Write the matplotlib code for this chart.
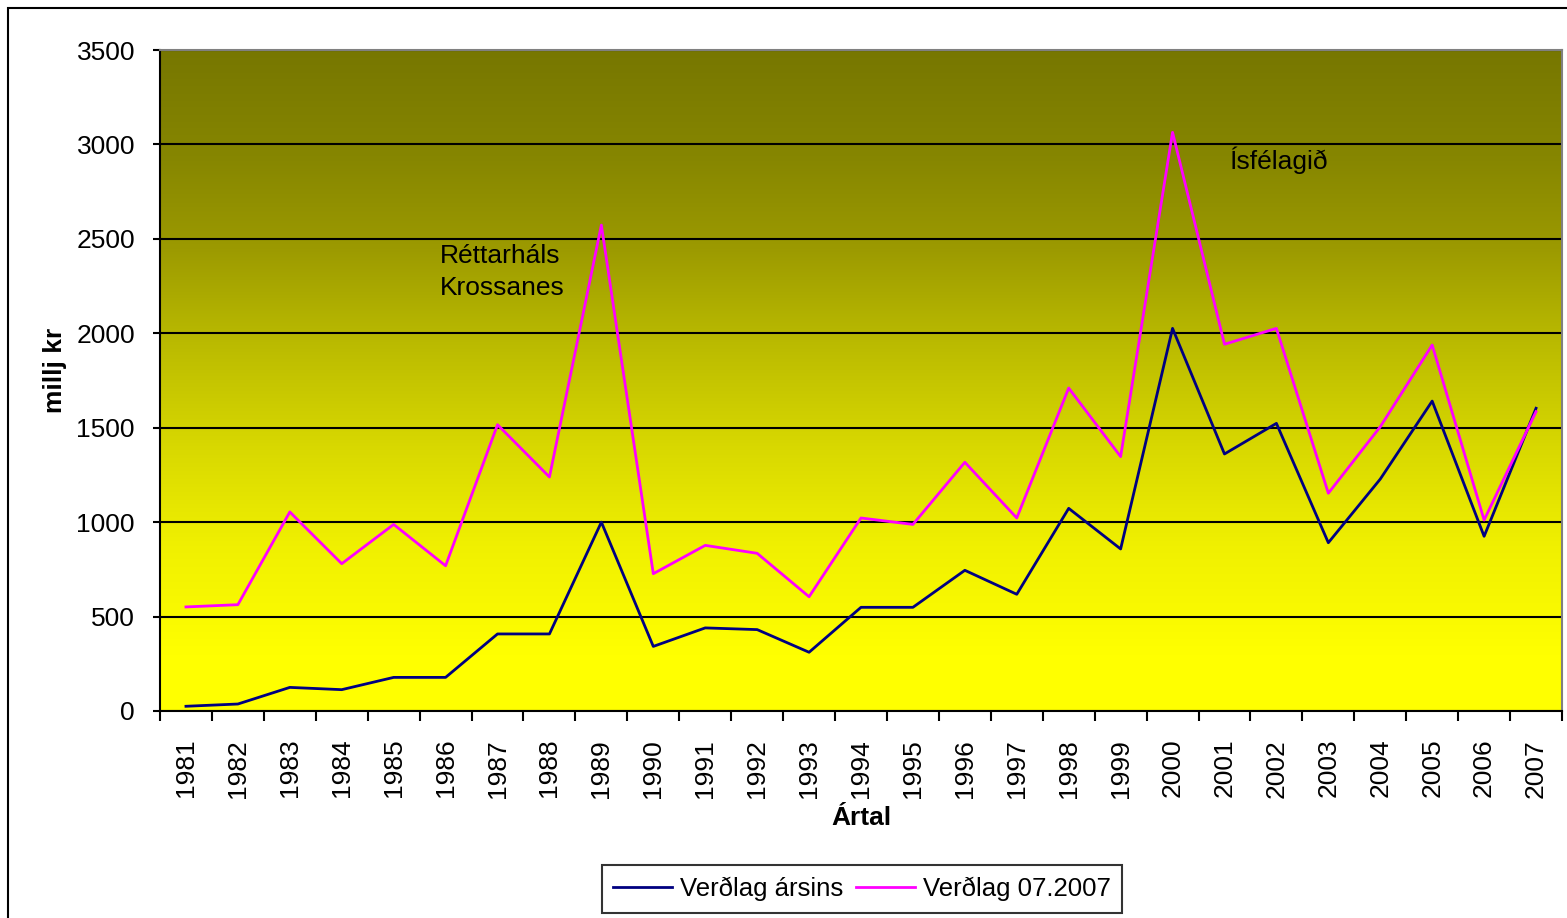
import numpy as np
import matplotlib.pyplot as plt
from matplotlib.colors import LinearSegmentedColormap
from matplotlib.patches import Rectangle

plt.rcParams['font.family'] = ['Liberation Sans', 'DejaVu Sans']

# Datos
years = [str(y) for y in range(1981, 2008)]
verdlag_arsins = [25, 37, 125, 113, 178, 178, 408, 408, 1000, 342, 440, 431, 311, 549,
                  549, 745, 618, 1073, 858, 2026, 1361, 1523, 891, 1228, 1641, 925, 1603]
verdlag_2007 = [551, 563, 1054, 780, 988, 769, 1516, 1239, 2573, 727, 877, 835, 605, 1022,
                988, 1317, 1022, 1710, 1347, 3064, 1942, 2026, 1153, 1505, 1938, 1011, 1585]

fig = plt.figure(figsize=(15.67, 9.18), dpi=100)
ax = fig.add_axes([160 / 1567, 1 - 711 / 918, 1402 / 1567, 661 / 918])

# Borde exterior del gráfico
fig.patches.append(Rectangle((8 / 1567, -0.01), 1.05, 1 - 8 / 918 + 0.01, transform=fig.transFigure,
                             fill=False, edgecolor='black', linewidth=1.5))

# Fondo degradado
cmap = LinearSegmentedColormap.from_list('fondo', [
    (0.0, '#ffff00'), (0.085, '#ffff00'), (0.25, '#f0f000'), (0.40, '#d8d800'),
    (0.57, '#b8b800'), (0.70, '#9c9a00'), (0.84, '#868600'), (1.0, '#777700')])
grad = np.linspace(0, 1, 256).reshape(-1, 1)
ax.imshow(grad, cmap=cmap, origin='lower', aspect='auto', extent=[0, 1, 0, 1],
          transform=ax.transAxes, zorder=0)

x = np.arange(len(years))
ax.plot(x, verdlag_arsins, color='#000080', linewidth=2, label='Verðlag ársins', zorder=3)
ax.plot(x, verdlag_2007, color='#ff00ff', linewidth=2, label='Verðlag 07.2007', zorder=3)

ax.set_xlim(-0.5, len(years) - 0.5)
ax.set_ylim(0, 3500)
ax.set_yticks(range(0, 3501, 500))
ax.yaxis.grid(True, color='black', linewidth=1.5)
for gl in ax.get_ygridlines():
    gl.set_zorder(1)

ax.set_xticks(x)
ax.set_xticklabels(years, rotation=90)
ax.set_xticks(np.arange(-0.5, len(years)), minor=True)
ax.tick_params(axis='x', which='major', length=0, pad=20, labelsize=19)
ax.tick_params(axis='x', which='minor', length=7, width=1.5, direction='out')
ax.tick_params(axis='y', length=5, width=1.5, direction='out', labelsize=19, pad=13)

for s in ['left', 'bottom']:
    ax.spines[s].set_color('black')
    ax.spines[s].set_linewidth(1.5)
for s in ['top', 'right']:
    ax.spines[s].set_color('#808080')
    ax.spines[s].set_linewidth(1.5)

ax.set_xlabel('Ártal', fontsize=19, fontweight='bold', labelpad=6)
fig.text(55 / 1567, 1 - 370 / 918, 'millj kr', rotation=90, fontsize=19, fontweight='bold',
         ha='center', va='center')

ax.text(4.89, 2325, 'Réttarháls\nKrossanes', fontsize=19, va='center', ha='left', linespacing=1.4)
ax.text(20.08, 2918, 'Ísfélagið', fontsize=19, va='center', ha='left')

leg = fig.legend(loc='center', bbox_to_anchor=(862 / 1567, 1 - 889 / 918), ncol=2, fontsize=18.5,
                 frameon=True, fancybox=False, edgecolor='black', handlelength=2.3,
                 columnspacing=0.5, handletextpad=0.3, borderpad=0.45)
leg.get_frame().set_linewidth(1.5)

fig.savefig('out.png', dpi=100, facecolor='white')
